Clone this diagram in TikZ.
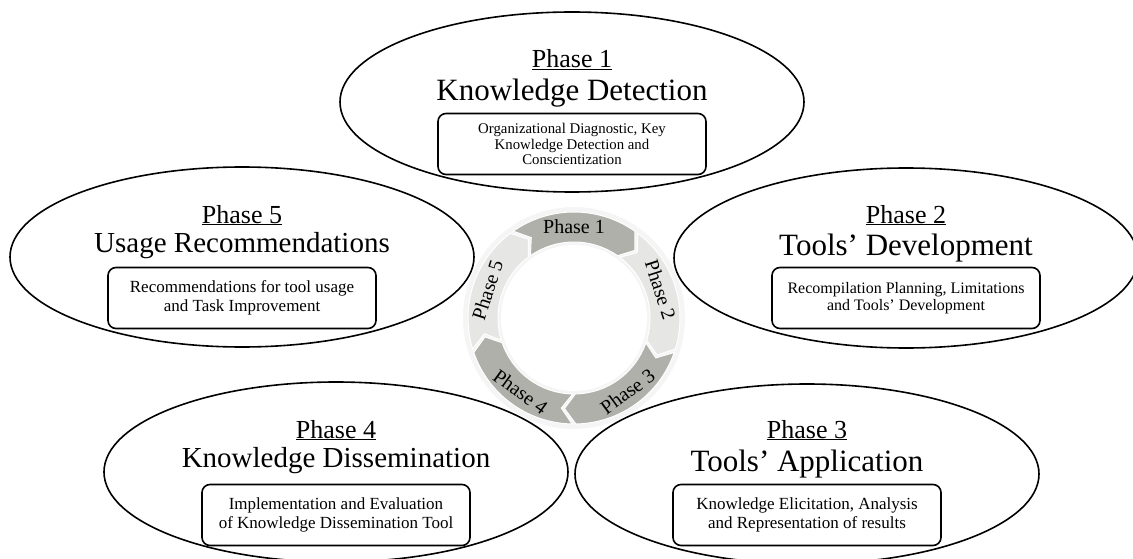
\documentclass[tikz,border=0pt]{standalone}
\usepackage{fontspec}
\setmainfont{Liberation Serif}
\usepackage{tikz}
\usetikzlibrary{shapes.geometric}
\definecolor{segdark}{RGB}{176,176,170}
\definecolor{seglight}{RGB}{230,230,228}
\tikzstyle{phaseellipse} = [ellipse, draw=black, line width=1.6pt, minimum width=464pt, minimum height=180pt, inner sep=0pt]
\tikzstyle{phasetitle} = [anchor=base, inner sep=0pt, font=\fontsize{31}{34}\selectfont]
\tikzstyle{phaselabel} = [anchor=base, inner sep=0pt, font=\fontsize{26}{28}\selectfont]
\tikzstyle{taskbox} = [rectangle, rounded corners=8pt, draw=black, line width=1.6pt, minimum width=268pt, minimum height=61pt, align=center, font=\fontsize{17}{19}\selectfont]
\tikzstyle{ringseg} = [draw=white, line width=1pt]
\tikzstyle{ringlabel} = [inner sep=0pt, font=\fontsize{20}{22}\selectfont]

\begin{document}
\begin{tikzpicture}[x=1pt, y=-1pt]
                \useasboundingbox (0,0) rectangle (1133,559);
                % phase 1
                \node (ph1e) [phaseellipse] at (572,102) {};
                \node (ph1n) [phaselabel] at ([yshift=34pt]ph1e.center) {\underline{Phase 1}};
                \node (ph1t) [phasetitle] at ([yshift=1pt]ph1e.center) {Knowledge Detection};
                \node (ph1b) [taskbox, font=\fontsize{14.8}{15.3}\selectfont] at ([yshift=-42pt]ph1e.center) {Organizational Diagnostic, Key\\Knowledge Detection and\\Conscientization};
                % phase 2
                \node (ph2e) [phaseellipse] at (906,258) {};
                \node (ph2n) [phaselabel] at ([yshift=35pt]ph2e.center) {\underline{Phase 2}};
                \node (ph2t) [phasetitle] at ([yshift=3pt]ph2e.center) {Tools’ Development};
                \node (ph2b) [taskbox, font=\fontsize{16}{17.5}\selectfont] at ([yshift=-40pt]ph2e.center) {Recompilation Planning, Limitations\\and Tools’ Development};
                % phase 3
                \node (ph3e) [phaseellipse] at (807,474) {};
                \node (ph3n) [phaselabel] at ([yshift=36pt]ph3e.center) {\underline{Phase 3}};
                \node (ph3t) [phasetitle] at ([yshift=3pt]ph3e.center) {Tools’ Application};
                \node (ph3b) [taskbox] at ([yshift=-41pt]ph3e.center) {Knowledge Elicitation, Analysis\\and Representation of results};
                % phase 4
                \node (ph4e) [phaseellipse] at (336,472) {};
                \node (ph4n) [phaselabel] at ([yshift=34pt]ph4e.center) {\underline{Phase 4}};
                \node (ph4t) [phasetitle, font=\fontsize{29}{32}\selectfont] at ([yshift=5pt]ph4e.center) {Knowledge Dissemination};
                \node (ph4b) [taskbox] at ([yshift=-43pt]ph4e.center) {Implementation and Evaluation\\of Knowledge Dissemination Tool};
                % phase 5
                \node (ph5e) [phaseellipse] at (242,257) {};
                \node (ph5n) [phaselabel] at ([yshift=34pt]ph5e.center) {\underline{Phase 5}};
                \node (ph5t) [phasetitle, font=\fontsize{29}{32}\selectfont] at ([yshift=5pt]ph5e.center) {Usage Recommendations};
                \node (ph5b) [taskbox] at ([yshift=-41pt]ph5e.center) {Recommendations for tool usage\\and Task Improvement};
                % cycle in the middle
                \begin{scope}[shift={(574,318)}]
                    \fill[gray!8] (0,0) circle (111pt);
                    \fill[white] (0,0) circle (73pt);
                    \foreach \c/\lab/\col/\rot in {90/1/segdark/0, 18/2/seglight/-72, -54/3/segdark/36, -126/4/segdark/-36, 162/5/seglight/72} {
                        \path[ringseg, fill=\col] ({\c+35}:106pt) arc[start angle=\c+35, end angle=\c-35, radius=106pt]
                            -- ({\c-42}:91pt) -- ({\c-35}:76pt)
                            arc[start angle=\c-35, end angle=\c+35, radius=76pt]
                            -- ({\c+28}:91pt) -- cycle;
                        \node (ring\lab) [ringlabel, rotate=\rot] at (\c:91pt) {Phase \lab};
                    }
                \end{scope}
            \end{tikzpicture}
\end{document}
